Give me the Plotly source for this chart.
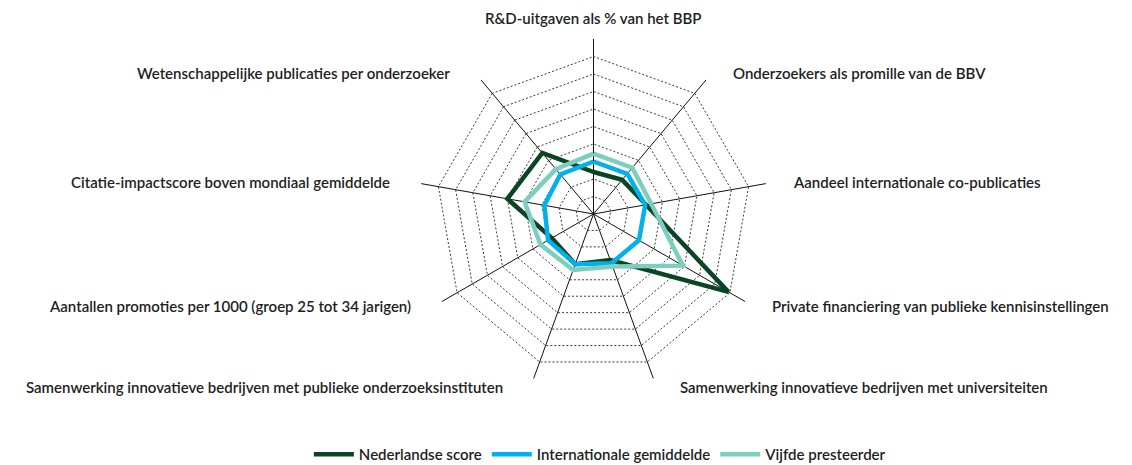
import math
import plotly.graph_objects as go

# assen (met de klok mee, beginnend bovenaan)
categories = [
    "R&D-uitgaven als % van het BBP",
    "Onderzoekers als promille van de BBV",
    "Aandeel internationale co-publicaties",
    "Private financiering van publieke kennisinstellingen",
    "Samenwerking innovatieve bedrijven met universiteiten",
    "Samenwerking innovatieve bedrijven met publieke onderzoeksinstituten",
    "Aantallen promoties per 1000 (groep 25 tot 34 jarigen)",
    "Citatie-impactscore boven mondiaal gemiddelde",
    "Wetenschappelijke publicaties per onderzoeker",
]

series_names = ["Nederlandse score", "Internationale gemiddelde", "Vijfde presteerder"]
nl_score = [2.4, 2.55, 3.05, 8.9, 2.8, 3.05, 2.75, 5.0, 4.55]
int_gem = [3.0, 3.0, 3.0, 3.0, 3.0, 3.05, 3.0, 2.85, 2.95]
vijfde = [3.45, 3.45, 3.35, 5.9, 3.2, 3.4, 3.5, 4.0, 3.35]

colors = ["#0a4423", "#00b1ec", "#7dcebf"]

# de pagina heeft 8px body-marge, dus figuur iets kleiner
W, H = 1124, 457
MB = 40                       # onderste marge voor de legenda
plot_h = H - MB
cx, cy, R = 585.5, 206, 175   # middelpunt en straal van het web in pixels

fig = go.Figure()
for name, vals, col in zip(series_names, [nl_score, int_gem, vijfde], colors):
    fig.add_trace(go.Scatterpolar(
        r=vals + vals[:1],
        theta=categories + categories[:1],
        mode="lines",
        name=name,
        line=dict(color=col, width=4.5),
        hoverinfo="skip",
    ))

# aslabels als annotaties naast de hoekpunten
n = len(categories)
annotations = []
for i, cat in enumerate(categories):
    a = math.radians(360 / n * i)
    vx = cx + R * math.sin(a)
    vy = cy - R * math.cos(a)
    s = math.sin(a)
    if abs(s) < 0.1:
        anchor, xs, ys = "center", 0, 21
    else:
        anchor = "left" if s > 0 else "right"
        xs = 25 if s > 0 else -29
        ys = 9 * math.cos(a)
    annotations.append(dict(
        text=cat, x=vx / W, y=(plot_h - vy) / plot_h,
        xref="paper", yref="paper", showarrow=False,
        xanchor=anchor, yanchor="middle", xshift=xs, yshift=ys,
    ))

fig.update_layout(
    width=W,
    height=H,
    margin=dict(l=0, r=0, t=0, b=MB, autoexpand=False),
    paper_bgcolor="white",
    font=dict(family="Lato", size=15, color="#1e1e1e", weight=600),
    annotations=annotations,
    polar=dict(
        domain=dict(x=[(cx - R) / W, (cx + R) / W],
                    y=[(plot_h - cy - R) / plot_h, (plot_h - cy + R) / plot_h]),
        bgcolor="white",
        gridshape="linear",
        radialaxis=dict(
            range=[0, 10],
            dtick=1,
            showticklabels=False,
            ticks="",
            showline=False,
            gridcolor="#3a3a3a",
            gridwidth=1,
            griddash="2px,2px",
        ),
        angularaxis=dict(
            direction="clockwise",
            rotation=90,
            showline=False,
            showticklabels=False,
            ticks="",
            gridcolor="#111111",
            gridwidth=1,
        ),
    ),
    legend=dict(
        orientation="h",
        x=0.527,
        xanchor="center",
        y=-(MB + 6) / plot_h,
        yanchor="bottom",
        itemwidth=40,
        font=dict(size=15),
    ),
)

fig.write_html("out.html")
